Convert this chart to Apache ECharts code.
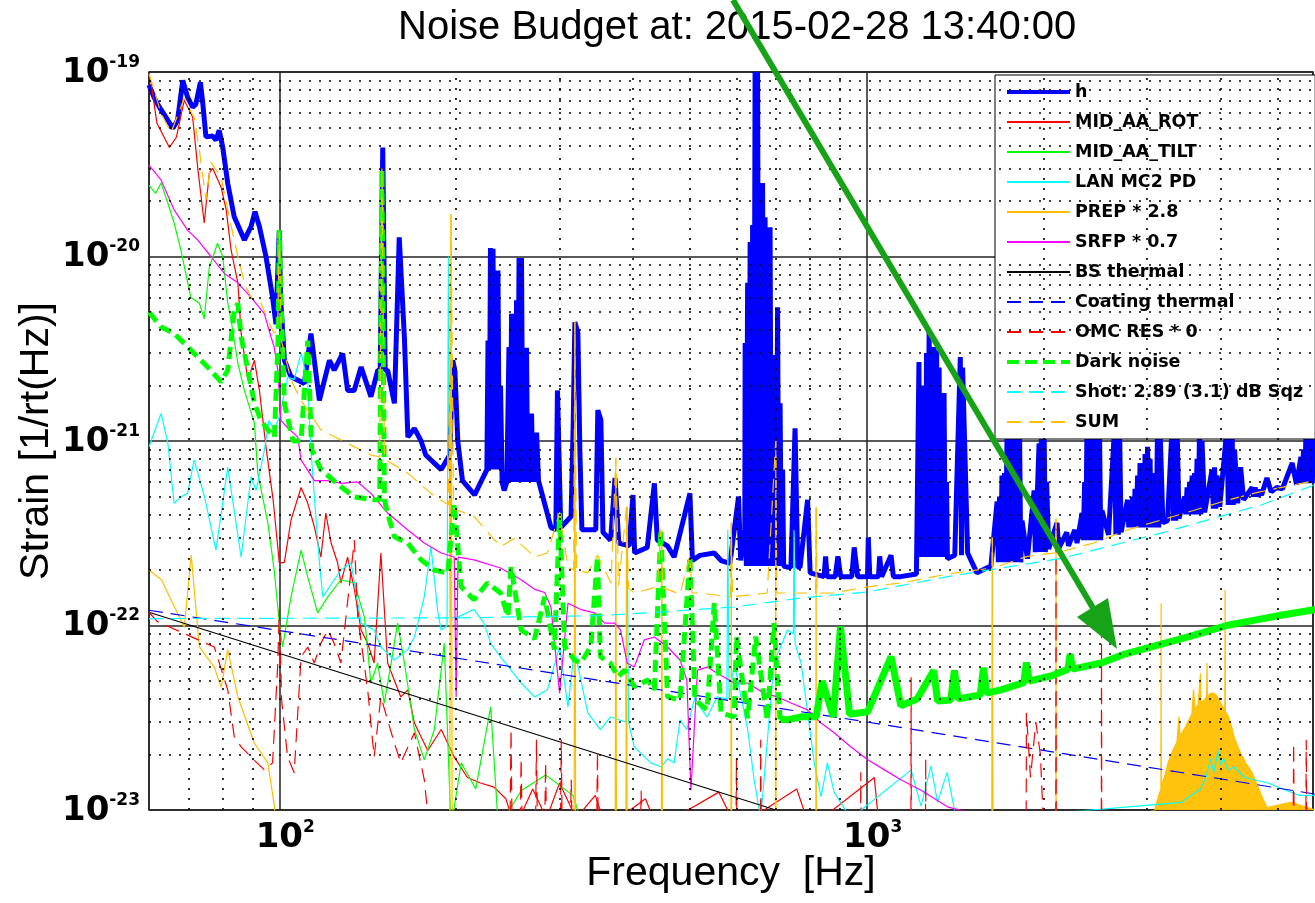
<!DOCTYPE html>
<html>
<head>
<meta charset="utf-8">
<title>Noise Budget</title>
<script src="https://cdn.jsdelivr.net/npm/echarts@6.0.0/dist/echarts.min.js"></script>
<style>
  html, body { margin: 0; padding: 0; background: #fff; }
  #chart { width: 1315px; height: 903px; }
</style>
</head>
<body>
<div id="chart"></div>
<script>
// [frequency Hz, strain 1/rt(Hz)]
const hData = [
  [60, 8.5e-20], [61.3, 7.2e-20], [62.5, 6.45e-20], [65.9, 4.95e-20], [67.1, 5.47e-20], [68.5, 9.0e-20],
  [69.8, 7.3e-20], [71.2, 6.45e-20], [72.1, 6.7e-20], [73.4, 8.8e-20], [74.1, 6.7e-20], [75.0, 4.45e-20],
  [77.0, 4.5e-20], [78.0, 4.27e-20], [79.0, 4.83e-20], [80.1, 3.92e-20], [81.7, 2.49e-20], [83.8, 1.64e-20],
  [87.2, 1.23e-20], [89.5, 1.45e-20], [90.9, 1.75e-20], [92.5, 1.45e-20], [94.9, 1.0e-20], [97.4, 6.0e-21],
  [98.7, 4.3e-21], [99.6, 1.0e-20], [100, 1.39e-20], [100.5, 6.0e-21], [102, 2.74e-21], [104.7, 2.23e-21],
  [110.3, 2.05e-21], [113.2, 3.82e-21], [114.7, 2.74e-21], [117, 1.66e-21], [121.7, 2.74e-21], [124, 2.42e-21],
  [128.2, 2.98e-21], [130.7, 1.88e-21], [134.1, 1.88e-21], [137.8, 2.52e-21], [143.2, 1.74e-21], [147.1, 2.42e-21],
  [148.5, 2.42e-21], [150, 3.9e-20], [151.4, 2.42e-21], [152.9, 2.42e-21], [157, 1.6e-21], [160, 1.27e-20],
  [163.3, 3.6e-21], [165.5, 1.05e-21], [169.8, 1.17e-21], [174.3, 1.0e-21], [177.5, 8.4e-22], [188.6, 7.0e-22],
  [195, 8.4e-22], [197.3, 2.74e-21], [199, 2.42e-21], [201.3, 1.0e-21], [205, 6.1e-22], [215, 5.1e-22],
  [225.6, 7.0e-22], [226.6, 3.5e-21], [227.7, 7e-22], [228.8, 1.11e-20], [230, 7e-22], [231.1, 1.1e-20],
  [232.2, 7e-22], [233.4, 2.42e-21], [234.5, 7e-22], [235.6, 8.4e-21], [236.8, 7e-22], [238, 2.0e-21],
  [239.5, 6e-22], [241.4, 5.4e-22], [244, 6e-22], [246.0, 3.23e-21], [247.2, 6e-22], [248.5, 4.9e-21],
  [249.7, 6e-22], [250.9, 4.9e-21], [252.1, 6e-22], [253.4, 5.8e-21], [254.6, 6e-22], [255.9, 9.8e-21],
  [257.1, 6e-22], [258.4, 9.8e-21], [259.7, 6e-22], [261, 3.2e-21], [262.2, 6e-22], [263.5, 3.2e-21],
  [264.8, 6e-22], [266.1, 1.41e-21], [267.4, 6e-22], [268.8, 1.41e-21], [270.1, 6e-22], [271.4, 1.11e-21],
  [272.7, 6e-22], [274.1, 1.11e-21], [276.2, 6.1e-22], [290, 3.4e-22], [295.6, 3.3e-22], [297.5, 1.88e-21],
  [301.4, 3.4e-22], [313.8, 3.9e-22], [316.5, 1.29e-21], [318.5, 4.4e-21], [322.3, 3.85e-21], [324.8, 9.0e-22],
  [327.4, 3.3e-22], [339, 3.3e-22], [345.7, 3.3e-22], [348.5, 1.47e-21], [352.7, 1.3e-21], [355.6, 3.2e-22],
  [366.4, 2.9e-22], [372.8, 6.3e-22], [378.3, 2.8e-22], [394, 2.7e-22], [400, 5.1e-22], [402.6, 2.47e-22],
  [423, 2.65e-22], [435, 5.9e-22], [440, 2.9e-22], [458, 2.7e-22], [470, 2.35e-22], [500, 5.2e-22],
  [505, 2.25e-22], [520, 2.4e-22], [550, 2.47e-22], [565, 2.25e-22], [585, 2.17e-22], [605, 5.0e-22],
  [610, 2.25e-22], [620, 3.3e-22], [620.8, 3.4e-21], [623.8, 2.1e-22], [626.9, 7.2e-21], [630, 2.1e-22],
  [633.1, 1.2e-20], [636.2, 2.1e-22], [639.3, 1.48e-20], [642.4, 2.1e-22], [645.5, 1e-19], [648.7, 2.1e-22],
  [651.9, 1e-19], [655.1, 2.1e-22], [658.3, 4.2e-21], [661.5, 2.1e-22], [664.8, 2.5e-20], [668, 2.1e-22],
  [671.3, 1.63e-20], [674.6, 2.1e-22], [677.9, 1.44e-20], [681.2, 2.1e-22], [684.6, 1.44e-20], [688, 2.1e-22],
  [691.3, 2.92e-21], [694.7, 2.1e-22], [698.2, 1.82e-21], [701.6, 2.1e-22], [705, 5.3e-21], [708.5, 2.1e-22],
  [712, 1.6e-21], [715.5, 2.1e-22], [719, 7e-22], [722, 2.1e-22], [733, 2.07e-22], [743, 2.07e-22],
  [755, 1.17e-21], [763, 2.07e-22], [770, 2.07e-22], [793, 4.8e-22], [801, 1.93e-22], [846, 1.84e-22],
  [851, 2.37e-22], [856, 1.84e-22], [884, 1.84e-22], [893, 2.37e-22], [903, 1.84e-22], [943, 1.84e-22],
  [952, 2.65e-22], [965, 1.84e-22], [1003, 1.84e-22], [1006, 3.0e-22], [1012, 1.84e-22], [1047, 1.84e-22],
  [1052, 2.37e-22], [1060, 1.84e-22], [1100, 2.4e-22], [1110, 1.84e-22], [1142, 1.84e-22], [1215, 1.9e-22],
  [1227, 2.68e-21], [1233, 2.35e-22], [1240, 2.0e-21], [1246, 2.35e-22], [1252, 1.66e-21], [1258, 2.35e-22],
  [1264, 3.0e-21], [1270, 2.35e-22], [1277, 3.98e-21], [1283, 2.35e-22], [1289, 2.14e-21], [1296, 2.35e-22],
  [1302, 3.23e-21], [1308, 2.35e-22], [1315, 3.1e-21], [1321, 2.35e-22], [1328, 2.5e-21], [1334, 2.35e-22],
  [1341, 1.29e-21], [1347, 2.35e-22], [1354, 1.82e-21], [1360, 2.35e-22], [1367, 6e-22], [1372, 2.3e-22],
  [1412, 2.4e-22], [1443, 2.85e-21], [1450, 2.4e-22], [1456, 2.5e-21], [1463, 2.5e-21], [1485, 2.47e-22],
  [1540, 1.93e-22], [1627, 2.1e-22], [1667, 4.7e-22], [1675, 2.2e-22], [1683, 5e-22], [1691, 2.2e-22],
  [1699, 6.5e-22], [1707, 2.2e-22], [1716, 6.7e-22], [1724, 2.2e-22], [1733, 1.1e-21], [1741, 2.2e-22],
  [1750, 1.2e-21], [1758, 2.2e-22], [1767, 1.2e-21], [1776, 2.2e-22], [1785, 1.2e-21], [1794, 2.2e-22],
  [1803, 1.2e-21], [1811, 2.2e-22], [1820, 1.2e-21], [1829, 2.2e-22], [1838, 3.7e-22], [1877, 2.3e-22],
  [1927, 5.4e-22], [1936, 2.5e-22], [1965, 9.7e-22], [1974, 2.5e-22], [1984, 1.2e-21], [1994, 2.5e-22],
  [2004, 1.2e-21], [2014, 2.5e-22], [2024, 6e-22], [2040, 2.6e-22], [2108, 3.6e-22], [2122, 2.62e-22],
  [2190, 3.2e-22], [2205, 2.7e-22], [2260, 3.3e-22], [2280, 2.8e-22], [2326, 4.07e-22], [2337, 2.9e-22],
  [2349, 6e-22], [2360, 2.9e-22], [2371, 1.2e-21], [2383, 2.9e-22], [2395, 1.2e-21], [2406, 2.9e-22],
  [2418, 1.2e-21], [2430, 2.9e-22], [2442, 1.2e-21], [2454, 2.9e-22], [2466, 1.2e-21], [2478, 2.9e-22],
  [2490, 1.2e-21], [2502, 2.9e-22], [2514, 4.2e-22], [2580, 3.1e-22], [2642, 1.2e-21], [2655, 3.1e-22],
  [2668, 1.2e-21], [2681, 3.1e-22], [2694, 1.2e-21], [2710, 3.2e-22], [2780, 4.8e-22], [2793, 3.4e-22],
  [2807, 4.5e-22], [2821, 3.4e-22], [2835, 5e-22], [2848, 3.4e-22], [2862, 5.5e-22], [2876, 3.4e-22],
  [2891, 6.5e-22], [2905, 3.4e-22], [2919, 7.6e-22], [2933, 3.4e-22], [2948, 7.6e-22], [2962, 3.4e-22],
  [2977, 8.5e-22], [2991, 3.4e-22], [3006, 9.3e-22], [3021, 3.4e-22], [3036, 8e-22], [3051, 3.4e-22],
  [3066, 6.7e-22], [3081, 3.4e-22], [3096, 6.7e-22], [3111, 3.4e-22], [3126, 1.2e-21], [3141, 3.4e-22],
  [3157, 1.2e-21], [3192, 3.6e-22], [3251, 3.7e-22], [3310, 1.2e-21], [3326, 3.7e-22], [3342, 1.2e-21],
  [3358, 3.7e-22], [3375, 1.2e-21], [3400, 3.8e-22], [3475, 5e-22], [3492, 4.0e-22], [3510, 5.6e-22],
  [3527, 4.0e-22], [3545, 6e-22], [3562, 4.0e-22], [3580, 6.5e-22], [3597, 4.0e-22], [3614, 6.7e-22],
  [3632, 4.0e-22], [3650, 8e-22], [3668, 4.0e-22], [3686, 1.2e-21], [3704, 4.0e-22], [3722, 1.0e-21],
  [3760, 4.1e-22], [3871, 7e-22], [3890, 4.3e-22], [3909, 7.2e-22], [3928, 4.3e-22], [3948, 6.5e-22],
  [3990, 4.4e-22], [4105, 1.2e-21], [4125, 4.5e-22], [4146, 1.2e-21], [4166, 4.5e-22], [4187, 1.2e-21],
  [4207, 4.5e-22], [4228, 9e-22], [4280, 4.6e-22], [4330, 7.2e-22], [4380, 4.8e-22], [4529, 5.6e-22],
  [4555, 5e-22], [4583, 5.6e-22], [4610, 5e-22], [4637, 5.4e-22], [4700, 5.1e-22], [4800, 6.3e-22],
  [4880, 5.3e-22], [4990, 5.6e-22], [5100, 5.5e-22], [5300, 7.6e-22], [5390, 5.8e-22], [5484, 8.2e-22],
  [5512, 5.9e-22], [5540, 9e-22], [5568, 5.9e-22], [5596, 1.2e-21], [5624, 5.9e-22], [5651, 1.2e-21],
  [5679, 5.9e-22], [5707, 1.2e-21], [5735, 5.9e-22], [5763, 1.2e-21]
];

const midAaRot = [
  [60, 9.6e-20], [60.5, 8.7e-20], [61.9, 5.27e-20], [65, 3.9e-20], [66.8, 4.43e-20], [68.9, 7.03e-20],
  [71.2, 5.68e-20], [72.6, 3.05e-20], [74.5, 1.52e-20], [76, 2.83e-20], [77, 3.01e-20], [79.6, 2.37e-20],
  [81.2, 1.79e-20], [82.8, 1.08e-20], [85, 7.2e-21], [86.1, 3.84e-21], [88.4, 2.14e-21], [90.7, 2.74e-21],
  [92.5, 1.88e-21], [94.9, 9.3e-22], [97.6, 4.8e-22], [100, 2.18e-22], [102, 2.2e-22], [104.7, 3.73e-22],
  [108.9, 5.6e-22], [111.8, 4.6e-22], [114.7, 3.43e-22], [117.7, 2.35e-22], [120, 4.07e-22], [122.5, 2.8e-22],
  [125.7, 2.18e-22], [127.3, 1.7e-22], [130.7, 2.35e-22], [134.2, 1.57e-22], [137.8, 9.45e-23], [141.4, 8.0e-23],
  [145, 6.26e-23], [148.9, 2.47e-22], [152.9, 6.26e-23], [161, 4.1e-23], [165.5, 4.48e-23], [169.8, 2.96e-23],
  [178.9, 2.1e-23], [188.6, 2.73e-23], [198.5, 1.94e-23], [209, 1.5e-23], [220, 1.4e-23], [232, 1.33e-23],
  [243, 1.15e-23], [252, 8e-24], [270, 1.3e-23], [285, 9e-24], [300, 1.4e-23], [320, 9e-24], [345, 1.2e-23],
  [360, 8e-24], [420, 1.15e-23], [440, 8e-24], [560, 1.25e-23], [600, 8e-24], [760, 1.3e-23], [800, 8e-24],
  [1030, 1.5e-23], [1050, 8e-24]
];

const midAaTilt = [
  [60, 2.43e-20], [61.6, 2.2e-20], [62.9, 2.5e-20], [64.6, 1.95e-20], [66.2, 1.52e-20], [68, 1.08e-20],
  [70.7, 6.0e-21], [73.1, 5.58e-21], [74.5, 4.6e-21], [76, 8.75e-21], [78.5, 1.18e-20], [80.1, 1.0e-20],
  [81.7, 5.58e-21], [82.8, 4.5e-21], [85, 2.64e-21], [87.2, 1.88e-21], [90.7, 1.25e-21], [91.9, 6.7e-22],
  [95.6, 3.6e-22], [98, 2.0e-22], [100, 1.03e-22], [101.3, 7.65e-23], [104.7, 1.43e-22], [108.9, 2.56e-22],
  [111.8, 1.83e-22], [116.2, 1.17e-22], [120.9, 1.43e-22], [127.3, 1.77e-22], [134.2, 1.7e-22], [139.6, 1.11e-22],
  [143.2, 4.88e-23], [147, 6.26e-23], [150.9, 3.8e-23], [155, 6.26e-23], [159, 1.03e-22], [163.3, 6.26e-23],
  [169.8, 2.73e-23], [176.5, 1.87e-23], [183.6, 2.73e-23], [190.9, 8.0e-23], [196, 8.0e-24], [204, 1.8e-23],
  [216, 1.3e-23], [229, 3.62e-23], [236, 8e-24], [258, 1.27e-23], [284, 1.55e-23], [316, 1.2e-23], [330, 8e-24]
];

const lanMc2Pd = [
  [60, 9.3e-22], [62.9, 1.41e-21], [64.6, 9.75e-22], [66.2, 4.6e-22], [68, 4.98e-22], [69.8, 5.2e-22],
  [71.6, 7.9e-22], [74.6, 4.98e-22], [78, 2.56e-22], [81.7, 7.2e-22], [86.1, 2.35e-22], [89.5, 6.4e-22],
  [91.3, 5.4e-22], [94.3, 8.9e-22], [96, 1.29e-21], [98, 1.15e-21], [100, 1.35e-21], [103.3, 2.22e-21],
  [106, 2.15e-21], [108.9, 3.0e-21], [111.8, 2.06e-21], [113.2, 9.0e-22], [114.7, 5.0e-22], [117, 2.2e-22],
  [118.6, 1.43e-22], [127.3, 2.0e-22], [132.5, 2.18e-22], [137.8, 1.03e-22], [145, 9.45e-23], [148.9, 7.65e-23],
  [157, 6.5e-23], [165.5, 7.4e-23], [169.8, 8.66e-23], [176.5, 1.43e-22], [181.2, 2.67e-22], [186, 1.2e-22],
  [188.6, 9.45e-23], [193, 1.0e-22], [194, 1.0e-20], [195.5, 1.1e-22], [201, 1.11e-22], [214.5, 1.22e-22],
  [223, 1.03e-22], [229, 8.0e-23], [238, 6.75e-23], [248, 5.73e-23], [258, 4.88e-23], [272, 4.1e-23],
  [286, 4.48e-23], [300, 7.65e-23], [310, 3.62e-23], [318, 7.4e-23], [335, 3.36e-23], [352, 2.73e-23],
  [366, 3.19e-23], [389, 3.0e-23], [391, 4.4e-22], [393, 3.0e-23], [402, 2.2e-23], [429, 1.8e-23],
  [447, 1.71e-23], [458, 1.9e-23], [470, 1.8e-23], [481, 3.08e-23], [494, 2.73e-23], [510, 4.1e-23],
  [520, 3.62e-23], [535, 3.19e-23], [556, 4.1e-23], [578, 4.0e-23], [580, 3.29e-22], [583, 4.0e-23],
  [595, 6.26e-23], [627, 2.73e-23], [643, 1.46e-23], [660, 9.0e-24], [695, 6.26e-23], [733, 9.45e-23],
  [750, 9e-23], [752, 3.29e-22], [755, 8e-23], [773, 6.26e-23], [814, 1.8e-23], [836, 1.18e-23],
  [857, 1.8e-23], [880, 1.25e-23], [939, 9.0e-24], [1190, 1.65e-23], [1237, 1.05e-23], [1286, 1.73e-23],
  [1320, 1.1e-23], [1370, 1.6e-23], [1420, 9e-24], [1634, 9e-24], [1636, 2.0e-22], [1640, 9e-24],
  [3430, 1.1e-23], [3700, 1.3e-23], [3780, 1.5e-23], [3850, 1.9e-23], [3900, 1.6e-23], [3965, 2.1e-23],
  [4000, 1.75e-23], [4050, 1.9e-23], [4120, 1.65e-23], [4220, 1.71e-23], [4400, 1.5e-23], [4600, 1.45e-23],
  [4820, 1.4e-23], [5100, 1.3e-23], [5460, 1.2e-23], [5800, 1.2e-23]
];

const prep = [
  [60, 2.0e-22], [63, 1.77e-22], [65.4, 1.38e-22], [68.9, 9.8e-23], [70.8, 2.41e-22], [71.9, 1.38e-22],
  [73.1, 7.65e-23], [77.5, 5.95e-23], [79.6, 4.63e-23], [81.7, 7.4e-23], [85, 4.1e-23], [90.7, 2.3e-23],
  [95.6, 1.8e-23], [98, 1.07e-23], [99.1, 7.0e-24], [195, 5e-24], [196, 1.7e-20], [197, 5e-24],
  [317.5, 5e-24], [318.5, 4.4e-21], [319.5, 5e-24], [373, 5e-24], [374, 8.1e-22], [375, 5e-24],
  [389, 5e-24], [390, 4.4e-22], [391, 5e-24], [447, 5e-24], [448, 3.3e-22], [449, 5e-24],
  [587, 5e-24], [588, 3.6e-22], [589, 5e-24], [699, 5e-24], [700, 1.0e-21], [701, 5e-24],
  [819, 5e-24], [820, 4.4e-22], [821, 5e-24], [1635, 5e-24], [1636, 3.0e-22], [1637, 5e-24],
  [2099, 5e-24], [2100, 3.8e-22], [2101, 5e-24], [3000, 5e-24]
];

// the broad PREP resonance near 4 kHz, drawn filled
const prepHump = [
  [3050, 8e-24], [3108, 1.07e-23], [3145, 1.21e-23], [3168, 1.3e-23], [3170, 1.32e-22], [3172, 1.35e-23],
  [3219, 1.55e-23], [3258, 1.8e-23], [3296, 1.99e-23], [3335, 2.17e-23], [3374, 2.34e-23], [3400, 3.2e-23],
  [3414, 2.52e-23], [3455, 2.68e-23], [3495, 2.86e-23], [3537, 3.08e-23], [3578, 3.32e-23], [3600, 4.5e-23],
  [3621, 3.53e-23], [3664, 3.71e-23], [3700, 5.5e-23], [3707, 3.8e-23], [3751, 3.95e-23], [3790, 4.1e-23],
  [3795, 6.26e-23], [3800, 4.1e-23], [3840, 4.26e-23], [3887, 4.31e-23], [3933, 4.2e-23], [3979, 3.95e-23],
  [4026, 3.66e-23], [4070, 3.5e-23], [4074, 1.56e-22], [4078, 3.4e-23], [4122, 3.23e-23], [4171, 2.89e-23],
  [4220, 2.49e-23], [4270, 2.25e-23], [4321, 2.06e-23], [4372, 1.92e-23], [4424, 1.78e-23], [4476, 1.69e-23],
  [4529, 1.59e-23], [4583, 1.46e-23], [4637, 1.33e-23], [4692, 1.21e-23], [4747, 1.11e-23], [4803, 1.03e-23],
  [5270, 1.1e-23], [5800, 1.0e-23]
];

const srfp = [
  [60, 3.13e-20], [62.9, 2.6e-20], [66.2, 1.79e-20], [69.8, 1.39e-20], [72.6, 1.23e-20], [76.5, 1.0e-20],
  [80.6, 8.1e-21], [85, 7.2e-21], [89.5, 6.0e-21], [94.3, 4.9e-21], [96.8, 3.66e-21], [98, 3.23e-21],
  [99.4, 2.42e-21], [100.7, 1.29e-21], [103.3, 1.18e-21], [107.5, 1.05e-21], [108.9, 7.9e-22], [114.7, 6.1e-22],
  [120.9, 6.1e-22], [127.3, 5.9e-22], [135.9, 6.0e-22], [143.2, 5.2e-22], [152.9, 4.07e-22], [165.5, 3.29e-22],
  [176.5, 2.8e-22], [188.6, 2.47e-22], [198.5, 2.35e-22], [200, 4.1e-23], [201.5, 2.35e-22], [214.5, 2.27e-22],
  [238, 2.05e-22], [258, 1.77e-22], [272, 1.57e-22], [283, 1.51e-22], [290, 1.26e-22], [300, 4.3e-23],
  [310, 1.32e-22], [326, 1.22e-22], [344, 1.17e-22], [358, 1.03e-22], [372, 1.03e-22], [381, 9.45e-23],
  [391, 6.26e-23], [402, 5.95e-23], [418, 8.35e-23], [435, 8.66e-23], [458, 7.65e-23], [481, 6.5e-23],
  [494, 5.06e-23], [502, 1.28e-23], [515, 5.73e-23], [535, 5.95e-23], [556, 5.53e-23], [595, 4.88e-23],
  [627, 4.88e-23], [668, 4.3e-23], [705, 4.1e-23], [743, 3.8e-23], [793, 3.49e-23], [836, 2.96e-23],
  [880, 2.62e-23], [939, 2.2e-23], [1004, 1.87e-23], [1072, 1.65e-23], [1143, 1.46e-23], [1237, 1.28e-23],
  [1372, 1.04e-23], [1490, 9.7e-24], [1630, 8.8e-24]
];

const bsThermal = [[60, 1.18e-22], [700, 1.0e-23]];

const coatingThermal = [[60, 1.21e-22], [1000, 3.0e-23], [5800, 1.22e-23]];

const omcRes = [
  [60, 1.18e-22], [62, 1.05e-22], [77.5, 7.65e-23], [81.7, 4.48e-23], [83.8, 2.5e-23], [86.1, 2.2e-23],
  [89.5, 1.94e-23], [94.3, 1.65e-23], [97.4, 1.8e-23], [99.4, 6.26e-23], [100, 1.22e-22], [100.9, 3.95e-23],
  [103.3, 1.94e-23], [106, 1.59e-23], [108.9, 6.75e-23], [111.8, 7.65e-23], [114.7, 6.26e-23], [117.7, 8.0e-23],
  [120.9, 9.45e-23], [124, 8.0e-23], [127.3, 6.26e-23], [134.2, 2.9e-22], [136, 1.11e-22], [141.4, 4.48e-23],
  [145, 1.94e-23], [148.9, 4.1e-23], [157, 2.3e-23], [161, 1.8e-23], [169.8, 2.62e-23], [176.5, 1.46e-23],
  [180, 8e-24], [247, 8e-24], [248, 2.73e-23], [249, 8e-24], [257, 8e-24], [258, 1.9e-23], [259, 8e-24],
  [273, 8e-24], [274, 2.4e-23], [275, 8e-24], [283, 8e-24], [284, 1.8e-23], [285, 8e-24],
  [301, 8e-24], [302, 2.4e-23], [303, 8e-24], [313, 8e-24], [314, 1.46e-23], [315, 8e-24],
  [347, 8e-24], [348, 2.1e-23], [349, 8e-24], [412, 8e-24], [413, 1.27e-23], [414, 8e-24],
  [599, 8e-24], [600, 1.9e-23], [601, 8e-24], [659, 8e-24], [660, 2.4e-23], [661, 8e-24],
  [976, 8e-24], [977, 1.6e-23], [978, 8e-24], [1189, 8e-24], [1190, 5.25e-23], [1191, 8e-24],
  [1259, 8e-24], [1260, 1.9e-23], [1261, 8e-24], [1868, 8e-24], [1870, 3.36e-23], [1900, 1.5e-23],
  [1940, 3.0e-23], [1975, 2.0e-23], [2000, 8e-24], [2098, 8e-24], [2100, 3.6e-22], [2102, 8e-24],
  [2508, 8e-24], [2510, 9.45e-23], [2512, 8e-24], [5320, 8e-24], [5330, 2.3e-23], [5340, 8e-24],
  [5590, 8e-24], [5600, 2.4e-23], [5610, 8e-24]
];

const darkNoise = [
  [60, 5.0e-21], [62.9, 4.15e-21], [66.2, 3.83e-21], [68.9, 3.38e-21], [75.5, 2.52e-21], [79.6, 2.09e-21],
  [81.7, 2.42e-21], [83.8, 5.1e-21], [85, 5.56e-21], [86.1, 3.67e-21], [88.4, 2.42e-21], [90.7, 1.6e-21],
  [93.1, 1.29e-21], [95.6, 1.15e-21], [98.1, 1.05e-21], [99.5, 3.5e-21], [100, 1.39e-20], [100.7, 5.8e-21],
  [102, 1.6e-21], [105.5, 1.0e-21], [108.9, 1.0e-21], [111.8, 3.5e-21], [113.5, 9.0e-22], [117.7, 7.0e-22],
  [127.3, 5.65e-22], [134.2, 4.98e-22], [145, 4.8e-22], [148.2, 4.8e-22], [149.5, 2.94e-20], [151, 4.8e-22],
  [152.9, 4.05e-22], [157, 3.03e-22], [165.5, 2.79e-22], [174.3, 2.27e-22], [183.6, 2.0e-22], [193.5, 1.92e-22],
  [198.5, 4.6e-22], [204, 1.62e-22], [214.5, 1.38e-22], [226, 1.7e-22], [238, 1.5e-22], [245, 1.12e-22],
  [248, 2.08e-22], [258, 9.45e-23], [272, 8.5e-23], [283, 1.43e-22], [294, 7.4e-23], [300, 4.05e-22],
  [306, 7.7e-23], [318, 6.5e-23], [326, 6.25e-23], [339, 7.7e-23], [348, 2.36e-22], [352, 6.78e-23],
  [366, 6.25e-23], [377, 5.27e-23], [387, 5.73e-23], [402, 4.66e-23], [424, 5.06e-23], [435, 4.48e-23],
  [446, 3.29e-22], [458, 4.1e-23], [481, 3.95e-23], [500, 2.36e-22], [510, 3.95e-23], [535, 3.49e-23],
  [550, 1.32e-22], [565, 3.35e-23], [595, 3.2e-23], [600, 8.7e-23], [627, 3.14e-23], [647, 8.7e-23],
  [677, 3.08e-23], [695, 1.03e-22], [712, 3.1e-23], [733, 3.08e-23], [773, 3.2e-23], [820, 3.2e-23],
  [840, 5.0e-23], [877, 3.2e-23], [902, 9.85e-23], [935, 3.3e-23], [1004, 3.41e-23], [1100, 6.78e-23],
  [1143, 3.67e-23], [1218, 4.0e-23], [1300, 5.7e-23], [1320, 3.9e-23], [1390, 3.95e-23], [1410, 5.7e-23],
  [1430, 4.0e-23], [1560, 4.2e-23], [1580, 5.9e-23], [1600, 4.3e-23], [1693, 4.48e-23], [1850, 4.9e-23],
  [1870, 6.3e-23], [1890, 5.0e-23], [2060, 5.33e-23], [2200, 5.8e-23], [2220, 7.0e-23], [2240, 5.8e-23],
  [2507, 6.26e-23], [2750, 7.0e-23], [3050, 7.65e-23], [3400, 8.4e-23], [3710, 9.1e-23], [4100, 1.0e-22],
  [4510, 1.06e-22], [5100, 1.14e-22], [5800, 1.22e-22]
];

const shotNoise = [
  [60, 1.09e-22], [200, 1.1e-22], [350, 1.13e-22], [458, 1.19e-22], [595, 1.26e-22], [773, 1.41e-22],
  [1003, 1.52e-22], [1374, 1.84e-22], [2142, 2.31e-22], [3170, 3.17e-22], [4690, 4.5e-22], [5800, 5.8e-22]
];

const sumTotal = [
  [60, 9.8e-20], [62.9, 5.97e-20], [65.4, 4.7e-20], [68.9, 7.2e-20], [71.7, 5.6e-20], [73.1, 3.77e-20],
  [75, 2.02e-20], [76.5, 3.24e-20], [79.6, 2.69e-20], [82.2, 1.63e-20], [85, 1.0e-20], [87.2, 7.2e-21],
  [89.5, 6.0e-21], [93.1, 5.58e-21], [96.1, 4.36e-21], [98, 3.84e-21], [99.3, 4e-21], [100, 1.35e-20],
  [100.8, 3.5e-21], [104.7, 2.14e-21], [108.9, 1.66e-21], [117.7, 1.15e-21], [132.5, 9.5e-22], [143.2, 8.4e-22],
  [148.2, 8.2e-22], [149.5, 3.0e-20], [151, 8.0e-22], [157, 7.4e-22], [165.5, 6.7e-22], [181.2, 5.2e-22],
  [194, 4.5e-22], [196, 1.7e-20], [198, 4.3e-22], [214.5, 3.9e-22], [238, 2.67e-22], [251.5, 2.97e-22],
  [272, 2.35e-22], [286, 2.47e-22], [300, 4.1e-22], [310, 2.07e-22], [317, 2.0e-22], [318.5, 4.4e-21],
  [320.5, 2.0e-22], [335, 1.93e-22], [348, 2.4e-22], [367, 1.7e-22], [374, 8.1e-22], [378, 1.65e-22],
  [390, 4.4e-22], [393, 1.6e-22], [402, 1.5e-22], [440, 1.62e-22], [446, 3.3e-22], [450, 1.6e-22],
  [481, 1.48e-22], [500, 2.4e-22], [504, 1.5e-22], [520, 1.5e-22], [586, 1.43e-22], [588, 3.6e-22],
  [591, 1.43e-22], [677, 1.5e-22], [700, 1.0e-21], [703, 1.5e-22], [773, 1.5e-22], [818, 1.5e-22],
  [820, 4.4e-22], [823, 1.5e-22], [877, 1.5e-22], [1004, 1.62e-22], [1143, 1.7e-22], [1373, 1.9e-22],
  [1634, 2.05e-22], [1636, 3.0e-22], [1640, 2.05e-22], [1877, 2.37e-22], [2096, 2.48e-22], [2100, 3.8e-22],
  [2105, 2.48e-22], [2436, 2.8e-22], [2780, 3.3e-22], [3170, 3.73e-22], [3600, 4.2e-22], [4100, 4.77e-22],
  [4670, 5.3e-22], [5320, 5.77e-22], [5800, 6.1e-22]
];

// dotted minor grid positions
const minorFreqs = [70, 80, 90, 200, 300, 400, 500, 600, 700, 800, 900, 2000, 3000, 4000, 5000];
const minorStrains = [
  2e-23, 3e-23, 4e-23, 5e-23, 6e-23, 7e-23, 8e-23, 9e-23,
  2e-22, 3e-22, 4e-22, 5e-22, 6e-22, 7e-22, 8e-22, 9e-22,
  2e-21, 3e-21, 4e-21, 5e-21, 6e-21, 7e-21, 8e-21, 9e-21,
  2e-20, 3e-20, 4e-20, 5e-20, 6e-20, 7e-20, 8e-20, 9e-20
];

const legendNames = ['h', 'MID_AA_ROT', 'MID_AA_TILT', 'LAN MC2 PD', 'PREP * 2.8', 'SRFP * 0.7',
  'BS thermal', 'Coating thermal', 'OMC RES * 0', 'Dark noise', 'Shot: 2.89 (3.1) dB Sqz', 'SUM'];

// the y axis works in units of 1e-23 (ECharts rounds tiny log ticks to 0)
const Y_UNIT = 1e-23;
const Y_EXP = -23;
function toUnits(pairs) {
  return pairs.map(function (p) { return [p[0], p[1] / Y_UNIT]; });
}

const DASH = [14, 8];
// dark noise: dashed at low frequency, dense enough higher up to read as a solid band
const DARK_SPLIT = 712;

function curve(name, data, color, width, dash, extra) {
  const s = {
    name: name,
    type: 'line',
    data: toUnits(data),
    symbol: 'none',
    showSymbol: false,
    silent: true,
    animation: false,
    clip: true,
    lineStyle: { color: color, width: width, type: dash || 'solid', join: 'bevel' },
    itemStyle: { color: color, opacity: 0 }
  };
  return Object.assign(s, extra || {});
}

function decade(v) {
  const e = Math.log10(v);
  const r = Math.round(e);
  return Math.abs(e - r) < 0.01 ? r : null;
}

const tickRich = {
  b: { fontFamily: 'DejaVu Sans', fontWeight: 'bold', fontSize: 34, lineHeight: 36, color: '#000', verticalAlign: 'bottom' },
  s: { fontFamily: 'DejaVu Sans', fontWeight: 'bold', fontSize: 17, lineHeight: 18, padding: [0, 0, 26, 0], color: '#000', verticalAlign: 'top' },
  p: { fontFamily: 'DejaVu Sans', fontWeight: 'bold', fontSize: 17, lineHeight: 18, color: 'rgba(0,0,0,0)' }
};

const chart = echarts.init(document.getElementById('chart'));

const option = {
  backgroundColor: '#fff',
  animation: false,
  title: {
    text: 'Noise Budget at: 2015-02-28 13:40:00',
    left: 393,
    top: 3,
    textStyle: { fontFamily: 'Liberation Sans', fontWeight: 'normal', fontSize: 40, color: '#000' }
  },
  legend: {
    data: legendNames.map(function (n) {
      if (n === 'h' || n === 'Dark noise') return { name: n, lineStyle: { width: 4 } };
      return { name: n };
    }),
    orient: 'vertical',
    left: 995,
    top: 75,
    itemWidth: 63,
    itemHeight: 14,
    itemGap: 10,
    padding: [7, 12, 7, 10],
    backgroundColor: '#fff',
    borderColor: '#000',
    borderWidth: 1,
    selectedMode: false,
    itemStyle: { opacity: 0 },
    textStyle: { fontFamily: 'DejaVu Sans', fontWeight: 'bold', fontSize: 17.5, lineHeight: 20, color: '#000' }
  },
  grid: {
    left: 149, top: 72, width: 1164, height: 738,
    show: true, borderColor: '#222', borderWidth: 1.5,
    containLabel: false,
    outerBoundsMode: 'none'
  },
  xAxis: {
    type: 'log', logBase: 10, min: 60, max: 5750,
    name: 'Frequency  [Hz]', nameLocation: 'middle', nameGap: 43, nameMoveOverlap: false,
    nameTextStyle: { fontFamily: 'Liberation Sans', fontSize: 41, color: '#000' },
    axisLine: { show: false },
    axisTick: { show: false },
    splitLine: { show: true, lineStyle: { color: '#222', width: 1.5 } },
    axisLabel: {
      margin: 9,
      formatter: function (v) {
        const r = decade(v);
        return r === null ? '' : '{p|' + r + '}{b|10}{s|' + r + '}';
      },
      rich: tickRich
    }
  },
  yAxis: {
    type: 'log', logBase: 10, min: 1, max: 1e4,
    name: 'Strain [1/rt(Hz)]', nameLocation: 'middle', nameGap: 92, nameRotate: 90, nameMoveOverlap: false,
    nameTextStyle: { fontFamily: 'Liberation Sans', fontSize: 41, color: '#000' },
    axisLine: { show: false },
    axisTick: { show: false },
    splitLine: { show: true, lineStyle: { color: '#222', width: 1.5 } },
    axisLabel: {
      margin: 9,
      formatter: function (v) {
        const r = decade(v);
        return r === null ? '' : '{b|10}{s|' + (r + Y_EXP) + '}';
      },
      rich: tickRich
    }
  },
  series: [
    {
      name: 'minor grid',
      type: 'line',
      data: [],
      silent: true,
      animation: false,
      z: 1,
      markLine: {
        silent: true,
        animation: false,
        symbol: ['none', 'none'],
        label: { show: false },
        lineStyle: { color: '#000', width: 1.6, type: [2, 8] },
        data: minorFreqs.map(function (f) { return { xAxis: f }; })
          .concat(minorStrains.map(function (s) { return { yAxis: s / Y_UNIT }; }))
      }
    },
    curve('h', hData, '#0000ff', 5),
    curve('MID_AA_ROT', midAaRot, '#ff0000', 1.2),
    curve('MID_AA_TILT', midAaTilt, '#00ff00', 1.2),
    curve('LAN MC2 PD', lanMc2Pd, '#00ffff', 1.2),
    curve('PREP * 2.8', prep, '#ffbf00', 1.2),
    curve('PREP * 2.8', prepHump, '#ffbf00', 1.2, 'solid',
      { z: 1, areaStyle: { color: '#ffbf00', opacity: 0.95, origin: 'start' } }),
    curve('SRFP * 0.7', srfp, '#ff00ff', 1.2),
    curve('BS thermal', bsThermal, '#000000', 1.2),
    curve('Coating thermal', coatingThermal, '#0000ff', 1.2, DASH),
    curve('OMC RES * 0', omcRes, '#ff0000', 1.2, DASH),
    curve('Dark noise', darkNoise.filter(function (p) { return p[0] <= DARK_SPLIT; }), '#00ff00', 5, [12, 6]),
    curve('Dark noise', darkNoise.filter(function (p) { return p[0] >= DARK_SPLIT; }), '#00ff00', 7),
    curve('Shot: 2.89 (3.1) dB Sqz', shotNoise, '#00ffff', 1.2, DASH),
    curve('SUM', sumTotal, '#ffbf00', 1.2, DASH)
  ],
  graphic: [
    {
      type: 'line', z: 100, silent: true,
      shape: { x1: 733, y1: 0, x2: 1093, y2: 608 },
      style: { stroke: '#17a317', lineWidth: 6 }
    },
    {
      type: 'polygon', z: 100, silent: true,
      shape: { points: [[1117, 649], [1077, 617], [1108, 598]] },
      style: { fill: '#17a317' }
    }
  ]
};

chart.setOption(option);
</script>
</body>
</html>
